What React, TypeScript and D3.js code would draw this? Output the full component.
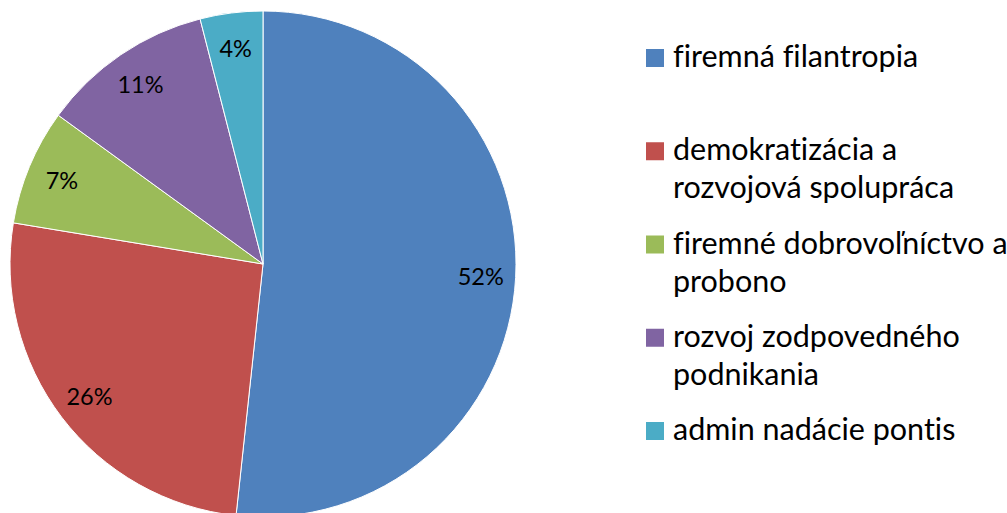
import React from "react";
import * as d3 from "d3";

const categories = [
  "firemná filantropia",
  "demokratizácia a rozvojová spolupráca",
  "firemné dobrovoľníctvo a probono",
  "rozvoj zodpovedného podnikania",
  "admin nadácie pontis",
];
const legendLines = [
  ["firemná filantropia"],
  ["demokratizácia a", "rozvojová spolupráca"],
  ["firemné dobrovoľníctvo a", "probono"],
  ["rozvoj zodpovedného", "podnikania"],
  ["admin nadácie pontis"],
];
const values = [51.7, 25.9, 7.4, 11.0, 4.0];
const colors = ["#4F81BD", "#C0504D", "#9BBB59", "#8064A2", "#4BACC6"];

const W = 1007;
const H = 513;
const cx = 263;
const cy = 264;
const R = 253;
const labelR = 218;

export default function App() {
  const data = categories.map((c, i) => ({ name: c, value: values[i], color: colors[i], i }));
  const pie = d3.pie<any>().sort(null).value((d) => d.value).startAngle(0).endAngle(2 * Math.PI);
  const arcs = pie(data);
  const arc = d3.arc<any>().innerRadius(0).outerRadius(R);
  const labelArc = d3.arc<any>().innerRadius(labelR).outerRadius(labelR);
  const total = d3.sum(values);
  const legendY = d3.scaleLinear().domain([0, 4]).range([67, 440]);

  return (
    <svg
      width={W}
      height={H}
      style={{ position: "absolute", left: 0, top: 0, background: "#fff", fontVariantLigatures: "none" }}
      fontFamily="Lato, 'Open Sans', sans-serif"
    >
      <g transform={`translate(${cx},${cy})`}>
        {arcs.map((a, i) => (
          <path key={i} d={arc(a) || ""} fill={a.data.color} stroke="#fff" strokeWidth={1} />
        ))}
        {arcs.map((a, i) => {
          const [x, y] = labelArc.centroid(a);
          return (
            <text key={i} x={x} y={y} textAnchor="middle" dominantBaseline="central" fontSize={23.5} fill="#000">
              {Math.round((a.data.value / total) * 100)}%
            </text>
          );
        })}
      </g>
      <g>
        {legendLines.map((lines, i) => {
          const by = legendY(i);
          return (
            <g key={i}>
              <rect x={646} y={by - 18} width={18} height={18} fill={colors[i]} />
              {lines.map((l, j) => (
                <text key={j} x={673} y={by + j * 38} fontSize={30.5} fill="#000">
                  {l}
                </text>
              ))}
            </g>
          );
        })}
      </g>
    </svg>
  );
}
